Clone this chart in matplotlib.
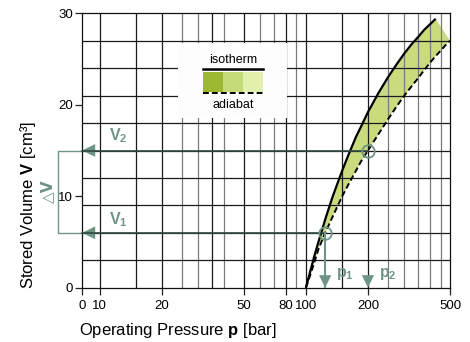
import matplotlib
matplotlib.use('Agg')
import matplotlib.pyplot as plt
from matplotlib.patches import Rectangle
from matplotlib.lines import Line2D
from matplotlib.ticker import NullLocator
from matplotlib.transforms import blended_transform_factory

plt.rcParams['font.family'] = ['Liberation Sans', 'DejaVu Sans']
plt.rcParams['mathtext.fontset'] = 'custom'
plt.rcParams['mathtext.rm'] = 'Liberation Sans'
plt.rcParams['mathtext.bf'] = 'Liberation Sans:bold'
plt.rcParams['mathtext.it'] = 'Liberation Sans:italic'

# ---- data ----
p_iso = [100, 105, 110, 115, 125, 135, 150, 160, 175, 185, 200, 225, 250, 275, 300, 325, 350, 375, 400, 426]
v_iso = [0, 1.8, 3.5, 5.0, 7.7, 10.0, 12.8, 14.4, 16.5, 17.6, 19.2, 21.3, 23.0, 24.4, 25.6, 26.6, 27.4, 28.2, 28.8, 29.4]
p_adi = [100, 105, 110, 115, 124, 135, 150, 160, 175, 185, 200, 225, 250, 275, 300, 325, 350, 375, 400, 425, 450, 475, 500]
v_adi = [0, 1.4, 2.8, 4.2, 6.0, 7.8, 10.0, 11.2, 12.8, 13.8, 15.0, 16.8, 18.4, 19.8, 21.0, 22.0, 22.9, 23.8, 24.6, 25.3, 25.9, 26.5, 27.0]
p1, v1 = 124, 6
p2, v2 = 200, 15
x_min = 8.2
x_ticks = [x_min, 10, 20, 50, 80, 100, 200, 500]
x_ticklabels = ['0', '10', '20', '50', '80', '100', '200', '500']
y_ticks = [0, 10, 20, 30]
grid_dark = [10, 15, 20, 35, 50, 80, 100, 150, 200]
grid_grey = [25, 30, 40, 60, 70, 90, 250, 300, 350, 400, 450]
y_grid = [3, 6, 9, 12, 15, 18, 21, 24, 27]

W, H = 470, 342
fig = plt.figure(figsize=(W / 100, H / 100), dpi=100)
ax = fig.add_axes([82 / W, 1 - 287.7 / H, 368 / W, 274.4 / H])

def fpx(x, y):
    return (x / W, 1 - y / H)

teal = '#6e9484'
dark = '#2f4b3f'
fill_c = '#c8dc7e'

ax.set_xscale('log')
ax.set_xlim(x_min, 500)
ax.set_ylim(0, 30)
ax.set_xticks(x_ticks)
ax.set_xticklabels(x_ticklabels)
ax.xaxis.set_minor_locator(NullLocator())
ax.set_yticks(y_ticks)
ax.tick_params(axis='both', direction='out', length=5, width=0.9, labelsize=9.5, color='#222222')
ax.tick_params(axis='x', pad=3.5)
ax.tick_params(axis='y', pad=1.5)
for s in ax.spines.values():
    s.set_color('#111111')
    s.set_linewidth(0.9)

for g in grid_dark:
    ax.axvline(g, color='#1a1a1a', lw=0.9, zorder=1)
for g in grid_grey:
    ax.axvline(g, color='#7a7a7a', lw=0.9, zorder=1)
for g in y_grid:
    ax.axhline(g, color='#1a1a1a', lw=0.9, zorder=1)

# band between isotherm and adiabat
ax.fill(p_iso + p_adi[::-1], v_iso + v_adi[::-1], color=fill_c, lw=0, zorder=0.8)
ax.plot(p_iso, v_iso, color='black', lw=1.6, zorder=3, solid_capstyle='butt')
ax.plot(p_adi, v_adi, color='black', lw=1.4, ls=(0, (3, 1.6)), zorder=3)

# V arrows
for p, v in [(p1, v1), (p2, v2)]:
    ax.annotate('', xy=(x_min, v), xytext=(p, v),
                arrowprops=dict(arrowstyle='-|>,head_length=9.5,head_width=4.6',
                                mutation_scale=1, color=teal, lw=0,
                                shrinkA=0, shrinkB=0), zorder=3.5)
    ax.plot([x_min, p], [v, v], color=dark, lw=1.2, zorder=4, clip_on=False)

# p arrows
ax.plot([p1, p1], [v1, 0], color=teal, lw=1.5, zorder=4)
for p, v in [(p1, v1), (p2, v2)]:
    ax.annotate('', xy=(p, 0), xytext=(p, v),
                arrowprops=dict(arrowstyle='-|>,head_length=9,head_width=4.4',
                                mutation_scale=1, color=teal, lw=0,
                                shrinkA=0, shrinkB=0), zorder=4.5)
ax.plot([p1, p2], [v1, v2], 'o', mfc='none', mec=teal, ms=9, mew=1.3, zorder=5)

# delta V bracket
bt = blended_transform_factory(fig.transFigure, ax.transData)
ax.plot([82 / W, 57.7 / W, 57.7 / W, 82 / W], [v2, v2, v1, v1],
        color=teal, lw=1.0, transform=bt, clip_on=False, zorder=2)

# labels on annotations
fig.text(*fpx(118, 136), r'$\mathbf{V}_{\mathbf{2}}$', color=teal, fontsize=11.5, ha='center', va='center')
fig.text(*fpx(118, 220), r'$\mathbf{V}_{\mathbf{1}}$', color=teal, fontsize=11.5, ha='center', va='center')
fig.text(*fpx(345, 274), r'$\mathbf{p}_{\mathbf{1}}$', color=teal, fontsize=11.5, ha='center', va='center')
fig.text(*fpx(388, 274), r'$\mathbf{p}_{\mathbf{2}}$', color=teal, fontsize=11.5, ha='center', va='center')
fig.text(*fpx(48, 191), '△V', color=teal, fontsize=11, fontweight='bold', rotation=90,
         ha='center', va='center', family=['DejaVu Sans'])

# legend
ax.add_patch(Rectangle((0.2617, 0.6173), 0.2946, 0.2734, transform=ax.transAxes,
                       fc='#fdfdfd', ec='none', zorder=6))
sw = [('#9cb833', 0.3288), ('#c4da78', 0.3832), ('#e2f0ad', 0.4375)]
for c, x0 in sw:
    ax.add_patch(Rectangle((x0, 0.7132), 0.0544, 0.074, transform=ax.transAxes,
                           fc=c, ec='none', zorder=7))
ax.add_line(Line2D([0.3288, 0.4918], [0.7959, 0.7959], transform=ax.transAxes,
                   color='black', lw=1.8, zorder=8))
ax.add_line(Line2D([0.3288, 0.4918], [0.7095, 0.7095], transform=ax.transAxes,
                   color='black', lw=1.4, ls=(0, (3, 1.6)), zorder=8))
ax.text(0.41, 0.83, 'isotherm', transform=ax.transAxes, fontsize=9, ha='center', va='center', zorder=8)
ax.text(0.41, 0.666, 'adiabat', transform=ax.transAxes, fontsize=9, ha='center', va='center', zorder=8)

# axis titles
fig.text(*fpx(178, 335), r'Operating Pressure $\mathbf{p}$ [bar]', fontsize=12,
         ha='center', va='baseline')
fig.text(*fpx(33.5, 205), r'Stored Volume $\mathbf{V}$ [cm³]', fontsize=12, rotation=90,
         rotation_mode='anchor', ha='center', va='baseline')

fig.savefig('out.png', dpi=100)
